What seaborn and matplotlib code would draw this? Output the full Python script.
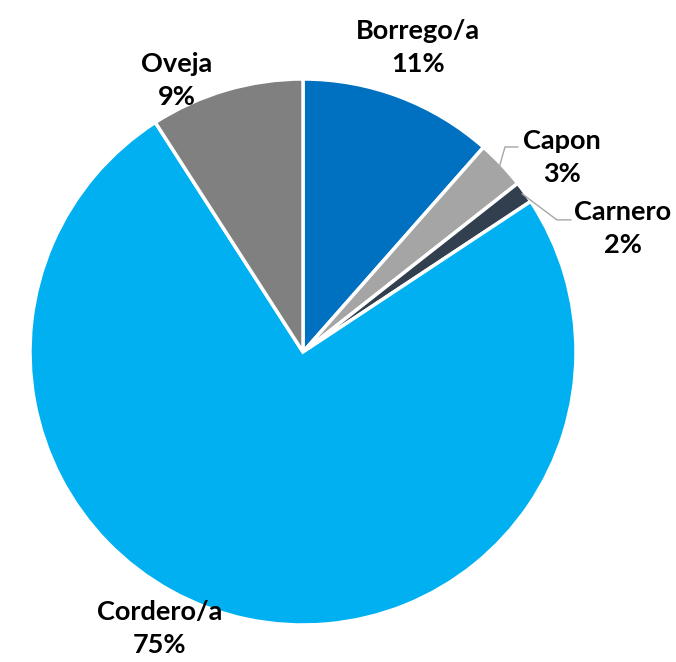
import numpy as np
import matplotlib
matplotlib.use("Agg")
import matplotlib.pyplot as plt
import seaborn as sns

categorias = ["Borrego/a", "Capon", "Carnero", "Cordero/a", "Oveja"]
valores = [11.5, 2.9, 1.3, 75.2, 9.1]
etiquetas_pct = ["11%", "3%", "2%", "75%", "9%"]
colores = ["#0070C0", "#A5A5A5", "#323F4F", "#00B0F0", "#808080"]

# label centres (data units, pie radius = 1)
pos_texto = [(0.421, 1.114), (0.949, 0.711), (1.172, 0.454), (-0.524, -1.011), (-0.462, 0.996)]
# elbow + end of leader lines for the small slices
guias = {1: [(0.740, 0.751), (0.788, 0.751)], 2: [(0.930, 0.484), (0.982, 0.484)]}

sns.set_theme(style="white")
plt.rcParams['font.family'] = ['Lato', 'DejaVu Sans']

fig = plt.figure(figsize=(6.76, 6.62), dpi=100)
ax = fig.add_axes([0, 0, 1, 1])

wedges, _ = ax.pie(valores, colors=colores, startangle=90, counterclock=False,
                   wedgeprops=dict(edgecolor="white", linewidth=2.5))

for i, w in enumerate(wedges):
    x, y = pos_texto[i]
    ax.text(x, y, f"{categorias[i]}\n{etiquetas_pct[i]}", ha="center", va="center",
            fontsize=19.5, fontweight="bold", color="black", linespacing=1.45)
    if i in guias:
        ang = np.deg2rad((w.theta1 + w.theta2) / 2)
        pts = [(0.99 * np.cos(ang), 0.99 * np.sin(ang))] + guias[i]
        xs, ys = zip(*pts)
        ax.plot(xs, ys, color="#A6A6A6", lw=1)

ax.set_xlim(-303 / 273, (676 - 303) / 273)
ax.set_ylim(-(662 - 352) / 273, 352 / 273)
ax.set_aspect("auto")
ax.axis("off")

fig.savefig("out.png", dpi=100, facecolor="white")
